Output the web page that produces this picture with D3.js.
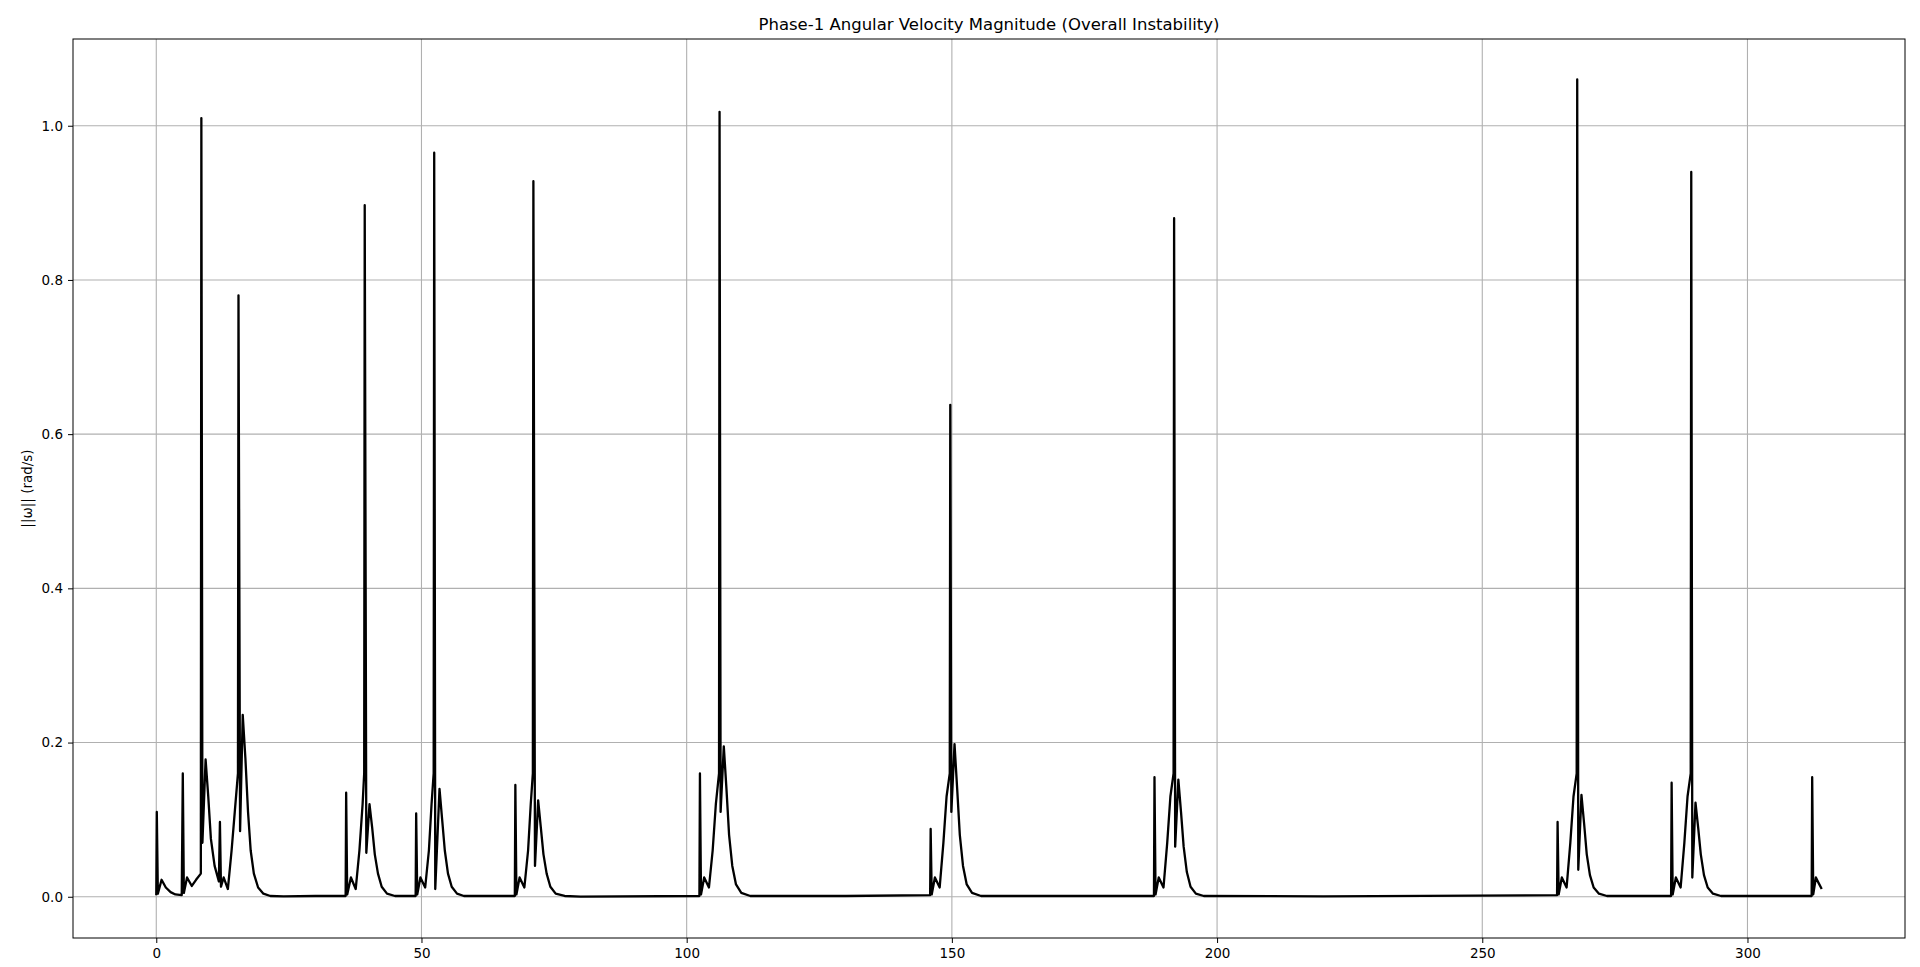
<!DOCTYPE html>
<html><head><meta charset="utf-8">
<script src="https://cdn.jsdelivr.net/npm/d3@7"></script>
<style>body{margin:0;background:#fff}svg{display:block;font-family:"DejaVu Sans",sans-serif}</style>
</head><body>
<svg id="c" width="1920" height="967"></svg>
<script>
const title = "Phase-1 Angular Velocity Magnitude (Overall Instability)";
const yLabel = "||ω|| (rad/s)";
const xTicks = [0,50,100,150,200,250,300];
const yTicks = [0.0,0.2,0.4,0.6,0.8,1.0];
// [time, |ω|] readings from the picture
const seg1 = [[0,0.002],[0.1,0.11],[0.3,0.004],[1,0.022],[1.8,0.012],[2.7,0.006],[3.6,0.003],[4.8,0.002],[5,0.16],[5.2,0.005],[5.8,0.025],[6.7,0.014],[7.5,0.022],[8.4,0.03],[8.5,1.01],[8.7,0.07],[9.3,0.178],[9.8,0.13],[10.3,0.075],[11,0.04],[11.8,0.02],[12,0.097],[12.2,0.013],[12.7,0.025],[13.5,0.01],[14.2,0.06],[14.8,0.11],[15.4,0.16],[15.5,0.78],[15.8,0.085],[16.3,0.236],[16.8,0.18],[17.3,0.11],[17.8,0.06],[18.4,0.03],[19.2,0.012],[20.2,0.004],[21.5,0.001],[24,0.0005],[30,0.001],[35.7,0.001]];
const seg2 = [[35.8,0.135],[36,0.003],[36.7,0.025],[37.6,0.01],[38.3,0.06],[38.9,0.12],[39.2,0.16],[39.3,0.897],[39.6,0.057],[40.2,0.12],[40.7,0.09],[41.2,0.055],[41.8,0.03],[42.5,0.013],[43.5,0.004],[45,0.001],[48.9,0.001]];
const seg3 = [[49,0.108],[49.2,0.003],[49.8,0.025],[50.7,0.012],[51.4,0.06],[51.9,0.12],[52.3,0.16],[52.4,0.965],[52.6,0.01],[53.4,0.14],[53.9,0.1],[54.4,0.06],[55,0.03],[55.7,0.013],[56.7,0.004],[58,0.001],[67.6,0.001]];
const seg4 = [[67.7,0.145],[67.9,0.003],[68.5,0.025],[69.4,0.012],[70.1,0.06],[70.6,0.12],[71,0.16],[71.1,0.928],[71.4,0.04],[72,0.125],[72.5,0.09],[73,0.055],[73.6,0.03],[74.3,0.013],[75.3,0.004],[77,0.001],[80,0.0002],[102.4,0.001]];
const seg5 = [[102.5,0.16],[102.7,0.003],[103.3,0.025],[104.2,0.012],[104.9,0.06],[105.5,0.12],[106.1,0.16],[106.2,1.018],[106.4,0.11],[107,0.195],[107.5,0.14],[108,0.08],[108.6,0.04],[109.3,0.016],[110.3,0.005],[112,0.001],[130,0.001],[145.9,0.002]];
const seg6 = [[146,0.088],[146.2,0.003],[146.8,0.025],[147.7,0.012],[148.4,0.07],[149,0.13],[149.6,0.16],[149.7,0.638],[149.9,0.11],[150.5,0.198],[151,0.14],[151.5,0.08],[152.1,0.04],[152.8,0.016],[153.8,0.005],[155.5,0.001],[188.1,0.001]];
const seg7 = [[188.2,0.155],[188.4,0.003],[189,0.025],[189.9,0.012],[190.6,0.07],[191.2,0.13],[191.8,0.16],[191.9,0.88],[192.1,0.065],[192.7,0.152],[193.2,0.11],[193.7,0.065],[194.3,0.032],[195,0.013],[196,0.004],[197.5,0.001],[220,0.0005],[264.1,0.002]];
const seg8 = [[264.2,0.097],[264.4,0.003],[265,0.025],[265.9,0.012],[266.6,0.07],[267.2,0.13],[267.8,0.16],[267.9,1.06],[268.1,0.035],[268.7,0.132],[269.2,0.095],[269.7,0.055],[270.3,0.028],[271,0.012],[272,0.004],[273.5,0.001],[285.6,0.001]];
const seg9 = [[285.7,0.148],[285.9,0.003],[286.5,0.025],[287.4,0.012],[288.1,0.07],[288.7,0.13],[289.3,0.16],[289.4,0.94],[289.6,0.025],[290.2,0.122],[290.7,0.09],[291.2,0.055],[291.8,0.028],[292.5,0.012],[293.5,0.004],[295,0.001],[312.1,0.001]];
const seg10 = [[312.2,0.155],[312.4,0.003],[312.9,0.025],[313.4,0.018],[314,0.01]];
const series = [].concat(seg1,seg2,seg3,seg4,seg5,seg6,seg7,seg8,seg9,seg10);

const svg = d3.select("#c");
const L=73,R=1905,T=39,B=938;
const x = d3.scaleLinear().domain([-15.7,329.7]).range([L,R]);
const y = d3.scaleLinear().domain([-0.0535,1.1125]).range([B,T]);
const grid = svg.append("g").attr("stroke","#b0b0b0").attr("stroke-width",1.1);
xTicks.forEach(t=>grid.append("line").attr("x1",x(t)).attr("x2",x(t)).attr("y1",T).attr("y2",B));
yTicks.forEach(t=>grid.append("line").attr("y1",y(t)).attr("y2",y(t)).attr("x1",L).attr("x2",R));
svg.append("path").datum(series).attr("fill","none").attr("stroke","#000").attr("stroke-width",2.3)
  .attr("stroke-linejoin","round")
  .attr("d",d3.line().x(d=>x(d[0])).y(d=>y(d[1])));
const gx = svg.append("g").attr("transform",`translate(0,${B})`).call(d3.axisBottom(x).tickValues(xTicks).tickFormat(d3.format("d")).tickSize(5).tickPadding(5));
const gy = svg.append("g").attr("transform",`translate(${L},0)`).call(d3.axisLeft(y).tickValues(yTicks).tickFormat(d3.format(".1f")).tickSize(5).tickPadding(5));
[gx,gy].forEach(g=>{g.select(".domain").remove();g.selectAll("text").attr("font-size",13.5).attr("fill","#000").attr("font-family","DejaVu Sans");g.selectAll("line").attr("stroke","#000");});
svg.append("rect").attr("x",L).attr("y",T).attr("width",R-L).attr("height",B-T).attr("fill","none").attr("stroke","#000").attr("stroke-width",1);
svg.append("text").attr("x",(L+R)/2).attr("y",T-9).attr("text-anchor","middle").attr("font-size",16.5).text(title);
svg.append("text").attr("transform",`translate(32,${(T+B)/2}) rotate(-90)`).attr("text-anchor","middle").attr("font-size",13.5).text(yLabel);
</script>
</body></html>
